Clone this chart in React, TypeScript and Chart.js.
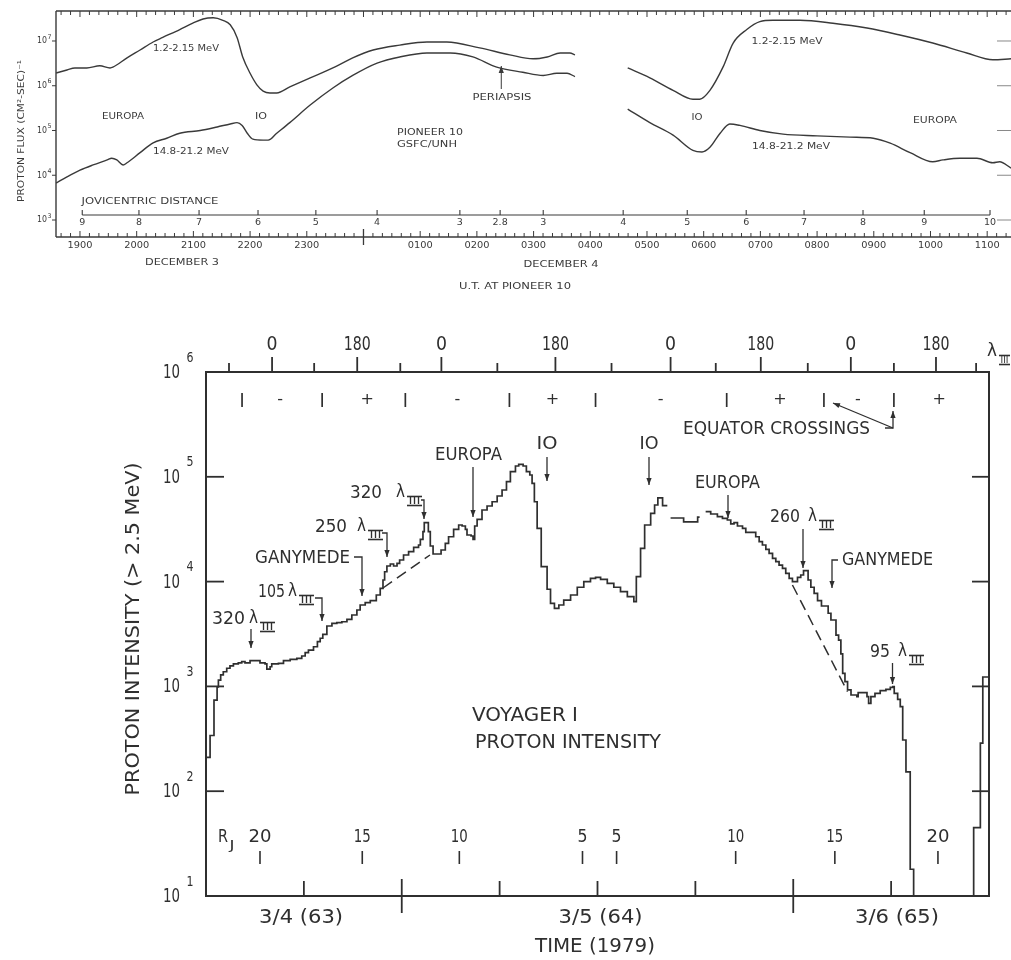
import React, { useEffect, useRef } from "react";
import { Chart, registerables } from "chart.js";

Chart.register(...registerables);

const INK = "#2f2f2f";
const INK_TOP = "#3a3a3a";
const SANS = '"DejaVu Sans", "Liberation Sans", sans-serif';

// ===== Upper panel: Pioneer 10 proton flux, hours after 00:00 UT 3 Dec =====
const p10HighHours = [18.58, 18.77, 18.91, 19.12, 19.35, 19.53, 19.58, 19.83, 20.06, 20.29, 20.46, 20.76, 20.99, 21.17, 21.35, 21.52, 21.65, 21.77, 21.87, 22.0, 22.12, 22.23, 22.35, 22.47, 22.7, 23.06, 23.46, 23.81, 24.17, 24.64, 25.12, 25.47, 26.05, 26.58, 26.99, 27.24, 27.47, 27.64, 27.73, 28.2, 28.66, 29.05, 29.46, 29.81, 29.93, 30.11, 30.34, 30.52, 30.76, 30.99, 31.22, 31.7, 32.28, 32.88, 33.46, 34.04, 34.64, 35.1, 35.42];
const p10HighFlux = [1.93e6, 2.25e6, 2.5e6, 2.5e6, 2.8e6, 2.5e6, 2.6e6, 4.2e6, 6.3e6, 9.5e6, 1.2e7, 1.8e7, 2.5e7, 3.1e7, 3.3e7, 2.9e7, 2.3e7, 1.2e7, 4.4e6, 1.9e6, 1.05e6, 7.6e5, 6.9e5, 6.9e5, 9.4e5, 1.5e6, 2.5e6, 4.2e6, 6.3e6, 8.1e6, 9.5e6, 9.5e6, 7e6, 4.9e6, 4e6, 4.4e6, 5.4e6, 5.4e6, 4.9e6, null, 2.5e6, 1.5e6, 7.9e5, 5e5, 5e5, 7.9e5, 2.6e6, 9e6, 1.8e7, 2.7e7, 2.9e7, 2.9e7, 2.5e7, 1.95e7, 1.36e7, 9e6, 5.4e6, 3.8e6, 4e6];
const p10LowHours = [18.58, 18.77, 19.0, 19.23, 19.48, 19.56, 19.65, 19.76, 19.83, 20.06, 20.29, 20.53, 20.76, 21.12, 21.42, 21.65, 21.77, 21.86, 21.95, 22.05, 22.23, 22.32, 22.47, 22.7, 23.06, 23.46, 23.81, 24.24, 24.64, 25.12, 25.53, 25.93, 26.35, 26.81, 27.17, 27.41, 27.59, 27.73, 28.2, 28.66, 29.05, 29.46, 29.81, 29.97, 30.11, 30.29, 30.46, 30.64, 30.99, 31.4, 32.0, 32.58, 32.99, 33.29, 33.64, 34.04, 34.22, 34.52, 34.82, 35.1, 35.22, 35.42];
const p10LowFlux = [6.7e3, 9.2e3, 1.3e4, 1.7e4, 2.2e4, 2.4e4, 2.2e4, 1.7e4, 1.9e4, 3.2e4, 5.3e4, 6.7e4, 8.7e4, 1.0e5, 1.2e5, 1.4e5, 1.5e5, 1.3e5, 8.7e4, 6.4e4, 6.1e4, 6.1e4, 8.7e4, 1.5e5, 3.7e5, 8.9e5, 1.7e6, 3.2e6, 4.4e6, 5.4e6, 5.4e6, 4.4e6, 2.6e6, 2.0e6, 1.7e6, 1.9e6, 1.9e6, 1.6e6, null, 3.0e5, 1.5e5, 7.9e4, 3.6e4, 3.3e4, 4.2e4, 8.7e4, 1.4e5, 1.3e5, 1.0e5, 8.3e4, 7.6e4, 7.1e4, 6.7e4, 5.2e4, 3.2e4, 2.0e4, 2.2e4, 2.4e4, 2.4e4, 1.9e4, 2.0e4, 1.45e4];
const p10HourTicks = [19, 20, 21, 22, 23, 25, 26, 27, 28, 29, 30, 31, 32, 33, 34, 35];
const p10HourLabels = ["1900", "2000", "2100", "2200", "2300", "0100", "0200", "0300", "0400", "0500", "0600", "0700", "0800", "0900", "1000", "1100"];
const p10DistHours = [19.04, 20.04, 21.1, 22.14, 23.16, 24.24, 25.7, 26.41, 27.17, 28.58, 29.71, 30.75, 31.77, 32.81, 33.89, 35.05];
const p10DistLabels = ["9", "8", "7", "6", "5", "4", "3", "2.8", "3", "4", "5", "6", "7", "8", "9", "10"];
const p10Decades = [1e3, 1e4, 1e5, 1e6, 1e7];
const p10DecadeExp = ["3", "4", "5", "6", "7"];
const p10PeriapsisHour = 26.43;

// ===== Lower panel: Voyager 1 proton intensity, hours after 00:00 4 March 1979 =====
const v1Hours = [12.06, 12.25, 12.49, 12.68, 12.76, 12.9, 13.06, 13.27, 13.47, 13.68, 13.98, 14.19, 14.39, 14.7, 15.31, 15.62, 15.73, 15.93, 16.03, 16.44, 16.75, 17.16, 17.57, 17.87, 18.08, 18.28, 18.59, 18.83, 19.0, 19.16, 19.41, 19.72, 20.02, 20.33, 20.64, 20.94, 21.25, 21.45, 21.76, 22.07, 22.44, 22.68, 22.85, 22.95, 23.09, 23.3, 23.5, 23.71, 23.87, 24.11, 24.42, 24.73, 25.03, 25.14, 25.3, 25.38, 25.63, 25.75, 25.92, 26.41, 26.67, 26.87, 27.18, 27.49, 27.7, 27.9, 28.0, 28.25, 28.37, 28.47, 28.62, 28.92, 29.23, 29.54, 29.85, 30.15, 30.42, 30.66, 30.97, 31.17, 31.44, 31.64, 31.85, 31.99, 32.13, 32.3, 32.55, 32.91, 33.12, 33.36, 33.63, 33.93, 34.35, 34.76, 35.16, 35.57, 35.88, 36.19, 36.6, 37.0, 37.41, 37.83, 38.23, 38.38, 38.64, 38.89, 39.26, 39.5, 39.7, 39.99, 40.28, 40.3, 40.48, 41.28, 42.14, 42.26, 42.3, 42.63, 42.94, 43.35, 43.66, 43.96, 44.17, 44.37, 44.58, 44.89, 45.09, 45.7, 45.91, 46.11, 46.32, 46.52, 46.73, 46.93, 47.13, 47.34, 47.54, 47.75, 47.95, 48.26, 48.46, 48.63, 48.91, 49.08, 49.28, 49.49, 49.73, 50.14, 50.31, 50.62, 50.78, 50.92, 51.03, 51.17, 51.33, 51.54, 51.9, 51.98, 52.52, 52.62, 52.76, 53.01, 53.33, 53.68, 53.95, 54.11, 54.19, 54.4, 54.56, 54.71, 54.91, 55.17, 55.38, 59.06, 59.47, 59.62, 59.94];
const v1Intensity = [210, 340, 740, 990, 1150, 1290, 1380, 1490, 1570, 1640, 1680, 1720, 1680, 1760, 1680, 1640, 1460, 1540, 1640, 1660, 1760, 1810, 1850, 1950, 2100, 2220, 2390, 2670, 2880, 3140, 3770, 4000, 4060, 4140, 4370, 4800, 5360, 5980, 6290, 6570, 7450, 8630, 10360, 12420, 14090, 14720, 14090, 14950, 16070, 17940, 19280, 21240, 22350, 25330, 29940, 36480, 29940, 21860, 18340, 20030, 23190, 26800, 31550, 34680, 33940, 31550, 27850, 27230, 25330, 33940, 39300, 48200, 52620, 57830, 65580, 74820, 89800, 111900, 126800, 131600, 126800, 111900, 104000, 86700, 57830, 32270, 13870, 8450, 6210, 5560, 5980, 6670, 7450, 8830, 9980, 10740, 10990, 10510, 9630, 8830, 8010, 7180, 6430, 11140, 20780, 34680, 44870, 53830, 62800, 53000, 53000, null, 40460, 37070, 41300, 41300, null, 46450, 44160, 41600, 40180, 38720, 35480, 36480, 33940, 32270, 29520, 26800, 24040, 22350, 20330, 18620, 16680, 15490, 14390, 13390, 12000, 10740, 9980, 10990, 11560, 12700, 10360, 8830, 7730, 6570, 5850, 4990, 4300, 3090, 2770, 2040, 1330, 1110, 925, 828, 798, 871, 798, 690, 798, 859, 910, 938, 980, 993, 859, 753, 640, 308, 153, 18, 1, 45, 288, 1230, 1230];
const v1DashEarlyHours = [22.85, 25.73];
const v1DashEarly = [8690, 17940];
const v1DashLateHours = [47.95, 51.33];
const v1DashLate = [9280, 890];
const v1Decades = [10, 100, 1e3, 1e4, 1e5, 1e6];
const lambdaMajorHours = [16.05, 21.27, 26.43, 33.42, 40.48, 46.01, 51.53, 56.75];
const lambdaMajorLabels = ["0", "180", "0", "180", "0", "180", "0", "180"];
const lambdaMinorHours = [13.41, 18.63, 23.91, 29.86, 36.86, 43.25, 48.89, 54.17, 59.21];
const equatorHours = [14.21, 19.12, 24.22, 30.6, 35.88, 43.92, 49.88, 54.17];
const hemiHours = [16.54, 21.88, 27.41, 33.24, 39.87, 47.18, 51.96, 56.94];
const hemiSigns = ["-", "+", "-", "+", "-", "+", "-", "+"];
const rjHours = [15.31, 21.58, 27.53, 35.08, 37.17, 44.47, 50.55, 56.87];
const rjLabels = ["20", "15", "10", "5", "5", "10", "15", "20"];
const sixHourTicks = [18, 30, 36, 42, 54];
const dayBoundaryHours = [24, 48];
const dayLabelHours = [17.83, 36.19, 54.36];
const dayLabels = ["3/4 (63)", "3/5 (64)", "3/6 (65)"];

// ---------- drawing helpers ----------
function seg(ctx: any, x1: number, y1: number, x2: number, y2: number) {
  ctx.beginPath();
  ctx.moveTo(x1, y1);
  ctx.lineTo(x2, y2);
  ctx.stroke();
}
function head(ctx: any, x: number, y: number, dx: number, dy: number, len = 7, half = 2.6) {
  const n = Math.hypot(dx, dy);
  const ux = dx / n, uy = dy / n;
  ctx.beginPath();
  ctx.moveTo(x, y);
  ctx.lineTo(x - ux * len - uy * half, y - uy * len + ux * half);
  ctx.lineTo(x - ux * len + uy * half, y - uy * len - ux * half);
  ctx.closePath();
  ctx.fill();
}
function arrow(ctx: any, pts: number[][]) {
  ctx.beginPath();
  ctx.moveTo(pts[0][0], pts[0][1]);
  for (let i = 1; i < pts.length; i++) ctx.lineTo(pts[i][0], pts[i][1]);
  ctx.stroke();
  const a = pts[pts.length - 2], b = pts[pts.length - 1];
  head(ctx, b[0], b[1], b[0] - a[0], b[1] - a[1]);
}
function label(ctx: any, s: string, cx: number, cy: number, size: number, w?: number, rot = 0, family = SANS) {
  ctx.save();
  ctx.font = `${size}px ${family}`;
  ctx.textAlign = "center";
  ctx.textBaseline = "middle";
  const m = ctx.measureText(s).width;
  ctx.translate(cx, cy);
  if (rot) ctx.rotate(rot);
  if (w) ctx.scale(w / m, 1);
  ctx.fillText(s, 0, 0);
  ctx.restore();
}
function roman3(ctx: any, left: number, right: number, cy: number) {
  label(ctx, "III", (left + right) / 2, cy, 10, right - left - 3);
  ctx.save();
  ctx.lineWidth = 1.6;
  seg(ctx, left, cy - 4.5, right, cy - 4.5);
  seg(ctx, left, cy + 4.5, right, cy + 4.5);
  ctx.restore();
}
function lamLabel(ctx: any, num: string, numL: number, numR: number, lamL: number, cy: number) {
  label(ctx, num, (numL + numR) / 2, cy, 18, numR - numL);
  label(ctx, "λ", lamL + 4.5, cy, 17, 9);
  roman3(ctx, lamL + 11, lamL + 26, cy + 8);
}

// ---------- plugins ----------
const topDecor = {
  id: "topDecor",
  afterDraw(chart: any) {
    const { ctx, chartArea: a } = chart;
    const x = chart.scales.x, y = chart.scales.y;
    ctx.save();
    ctx.strokeStyle = INK_TOP;
    ctx.fillStyle = INK_TOP;
    ctx.lineWidth = 1.4;
    seg(ctx, a.left, a.top, a.left, a.bottom);
    seg(ctx, a.left, a.top, a.right, a.top);
    seg(ctx, a.left, a.bottom, a.right, a.bottom);
    ctx.lineWidth = 1;
    const m0 = Math.ceil(x.min * 6), m1 = Math.floor(x.max * 6);
    for (let m = m0; m <= m1; m++) {
      const px = x.getPixelForValue(m / 6);
      const len = m % 6 === 0 ? 6 : 4;
      seg(ctx, px, a.bottom, px, a.bottom - len);
      seg(ctx, px, a.top, px, a.top + len);
    }
    const mid = x.getPixelForValue(24);
    ctx.lineWidth = 1.3;
    seg(ctx, mid, a.bottom - 8, mid, a.bottom + 8);
    p10HourTicks.forEach((h, i) => label(ctx, p10HourLabels[i], x.getPixelForValue(h), 246, 9.5, 25));
    label(ctx, "DECEMBER 3", 182, 263, 9.5, 74);
    label(ctx, "DECEMBER 4", 561, 265, 9.5, 75);
    label(ctx, "U.T. AT PIONEER 10", 515, 287, 9.5, 112);
    // y axis
    p10Decades.forEach((v, i) => {
      const py = y.getPixelForValue(v);
      ctx.lineWidth = 1;
      seg(ctx, a.left - 4, py, a.left, py);
      ctx.save();
      ctx.strokeStyle = "#888";
      seg(ctx, 997, py, 1011, py);
      ctx.restore();
      label(ctx, "10", 42, py, 9, 10);
      label(ctx, p10DecadeExp[i], 49.5, py - 4, 6.5, 4);
    });
    label(ctx, "PROTON FLUX (CM²-SEC)⁻¹", 22, 131, 9.5, 142, -Math.PI / 2);
    // jovicentric distance scale
    ctx.lineWidth = 1.1;
    const dx0 = x.getPixelForValue(p10DistHours[0]);
    const dx1 = x.getPixelForValue(p10DistHours[p10DistHours.length - 1]);
    seg(ctx, dx0, 215, dx1, 215);
    p10DistHours.forEach((h, i) => {
      const px = x.getPixelForValue(h);
      seg(ctx, px, 215, px, 210);
      label(ctx, p10DistLabels[i], px, 223, 9.5);
    });
    label(ctx, "JOVICENTRIC DISTANCE", 150, 202, 9.5, 137);
    // curve annotations
    label(ctx, "1.2-2.15 MeV", 186, 49, 9.5, 66);
    label(ctx, "EUROPA", 123, 117, 9.5, 42);
    label(ctx, "IO", 261, 117, 9.5, 12);
    label(ctx, "14.8-21.2 MeV", 191, 152, 9.5, 76);
    label(ctx, "PIONEER 10", 430, 133, 9.5, 66);
    label(ctx, "GSFC/UNH", 427, 145, 9.5, 60);
    label(ctx, "PERIAPSIS", 502, 98, 9.5, 59);
    const pp = x.getPixelForValue(p10PeriapsisHour);
    ctx.lineWidth = 1;
    arrow(ctx, [[pp, 89], [pp, 66]]);
    label(ctx, "1.2-2.15 MeV", 787, 42, 9.5, 71);
    label(ctx, "IO", 697, 118, 9.5, 11);
    label(ctx, "EUROPA", 935, 121, 9.5, 44);
    label(ctx, "14.8-21.2 MeV", 791, 147, 9.5, 78);
    ctx.restore();
  },
};

const bottomDecor = {
  id: "bottomDecor",
  afterDraw(chart: any) {
    const { ctx, chartArea: a } = chart;
    const x = chart.scales.x, y = chart.scales.y;
    ctx.save();
    ctx.strokeStyle = INK;
    ctx.fillStyle = INK;
    ctx.lineWidth = 2;
    ctx.strokeRect(a.left, a.top, a.right - a.left, a.bottom - a.top);
    ctx.lineWidth = 1.8;
    v1Decades.forEach((v) => {
      const py = y.getPixelForValue(v);
      if (v > 10 && v < 1e6) {
        seg(ctx, a.left, py, a.left + 18, py);
        seg(ctx, a.right - 17, py, a.right, py);
      }
      label(ctx, "10", 171.5, py + 1, 19, 17);
      label(ctx, String(Math.round(Math.log10(v))), 190, py - 14, 14, 7);
    });
    // time axis
    sixHourTicks.forEach((h) => {
      const px = x.getPixelForValue(h);
      seg(ctx, px, a.bottom, px, a.bottom - 15);
    });
    dayBoundaryHours.forEach((h) => {
      const px = x.getPixelForValue(h);
      seg(ctx, px, a.bottom - 17, px, a.bottom + 17);
    });
    dayLabels.forEach((s, i) => label(ctx, s, x.getPixelForValue(dayLabelHours[i]), 918, 19, 84));
    label(ctx, "TIME (1979)", 595, 947, 19, 120);
    // lambda III axis on top
    lambdaMajorHours.forEach((h, i) => {
      const px = x.getPixelForValue(h);
      seg(ctx, px, a.top, px, a.top - 15);
      const s = lambdaMajorLabels[i];
      label(ctx, s, px, 345, 19, s === "0" ? 11 : 27);
    });
    lambdaMinorHours.forEach((h) => {
      const px = x.getPixelForValue(h);
      seg(ctx, px, a.top, px, a.top - 9);
    });
    label(ctx, "λ", 992, 351, 18, 10);
    roman3(ctx, 999, 1010, 360);
    // equator crossings
    ctx.lineWidth = 1.7;
    equatorHours.forEach((h) => {
      const px = x.getPixelForValue(h);
      seg(ctx, px, 393, px, 407);
    });
    hemiHours.forEach((h, i) => label(ctx, hemiSigns[i], x.getPixelForValue(h), 400, 16));
    label(ctx, "EQUATOR CROSSINGS", 776.5, 429, 18, 187);
    ctx.lineWidth = 1.3;
    arrow(ctx, [[893, 428], [833, 403]]);
    arrow(ctx, [[885, 428], [893, 428], [893, 411]]);
    // annotations
    label(ctx, "EUROPA", 468.5, 455, 18, 67);
    arrow(ctx, [[473, 467], [473, 517]]);
    label(ctx, "IO", 547, 444, 18, 21);
    arrow(ctx, [[547, 457], [547, 481]]);
    label(ctx, "IO", 649, 444, 18, 19);
    arrow(ctx, [[649, 457], [649, 485]]);
    label(ctx, "EUROPA", 727.5, 483, 18, 65);
    arrow(ctx, [[728, 495], [728, 518]]);
    lamLabel(ctx, "320", 212, 245, 249, 619);
    arrow(ctx, [[251, 629], [251, 648]]);
    lamLabel(ctx, "105", 258, 285, 288, 592);
    arrow(ctx, [[315, 598], [322, 598], [322, 621]]);
    label(ctx, "GANYMEDE", 302.5, 558, 18, 95);
    arrow(ctx, [[354, 557], [362, 557], [362, 596]]);
    lamLabel(ctx, "250", 315, 347, 357, 527);
    arrow(ctx, [[382, 533], [387, 533], [387, 557]]);
    lamLabel(ctx, "320", 350, 382, 396, 493);
    arrow(ctx, [[421, 500], [424, 500], [424, 519]]);
    lamLabel(ctx, "260", 770, 800, 808, 517);
    arrow(ctx, [[803, 529], [803, 568]]);
    label(ctx, "GANYMEDE", 887.5, 560, 18, 91);
    arrow(ctx, [[838, 560], [832, 560], [832, 588]]);
    lamLabel(ctx, "95", 870, 890, 898, 652);
    arrow(ctx, [[892.5, 663], [892.5, 684]]);
    label(ctx, "VOYAGER I", 525, 716, 19, 106);
    label(ctx, "PROTON INTENSITY", 568, 743, 19, 186);
    // jovicentric distance row
    label(ctx, "R", 223, 837, 18, 10);
    label(ctx, "J", 232, 846, 12, 5);
    ctx.lineWidth = 1.6;
    rjHours.forEach((h, i) => {
      const px = x.getPixelForValue(h);
      const s = rjLabels[i];
      label(ctx, s, px, 837, 18, s === "5" ? 10 : s === "20" ? 23 : 17);
      seg(ctx, px, 851, px, 864);
    });
    label(ctx, "PROTON INTENSITY (> 2.5 MeV)", 134, 629, 19, 333, -Math.PI / 2);
    ctx.restore();
  },
};

function pts(xs: number[], ys: (number | null)[]) {
  return xs.map((h, i) => ({ x: h, y: ys[i] }));
}

export default function App() {
  const topRef = useRef<HTMLCanvasElement>(null);
  const botRef = useRef<HTMLCanvasElement>(null);

  useEffect(() => {
    const top = new Chart(topRef.current as HTMLCanvasElement, {
      type: "line",
      data: {
        datasets: [
          { data: pts(p10HighHours, p10HighFlux), borderColor: INK_TOP, borderWidth: 1.4, pointRadius: 0, cubicInterpolationMode: "monotone", spanGaps: false },
          { data: pts(p10LowHours, p10LowFlux), borderColor: INK_TOP, borderWidth: 1.4, pointRadius: 0, cubicInterpolationMode: "monotone", spanGaps: false },
        ],
      } as any,
      options: {
        animation: false,
        responsive: false,
        maintainAspectRatio: false,
        events: [],
        layout: { padding: { left: 56, top: 11, right: 0, bottom: 960 - 237 } },
        plugins: { legend: { display: false }, tooltip: { enabled: false } },
        scales: {
          x: { type: "linear", min: 18.577, max: 35.42, display: false },
          y: { type: "logarithmic", min: 417, max: 4.68e7, display: false },
        },
      } as any,
      plugins: [topDecor],
    });

    const bottom = new Chart(botRef.current as HTMLCanvasElement, {
      type: "line",
      data: {
        datasets: [
          { data: pts(v1Hours, v1Intensity), borderColor: INK, borderWidth: 1.7, pointRadius: 0, stepped: true, spanGaps: false },
          { data: pts(v1DashEarlyHours, v1DashEarly), borderColor: INK, borderWidth: 1.5, pointRadius: 0, borderDash: [11, 6] },
          { data: pts(v1DashLateHours, v1DashLate), borderColor: INK, borderWidth: 1.5, pointRadius: 0, borderDash: [11, 6] },
        ],
      } as any,
      options: {
        animation: false,
        responsive: false,
        maintainAspectRatio: false,
        events: [],
        layout: { padding: { left: 206, top: 372, right: 22, bottom: 960 - 896 } },
        plugins: { legend: { display: false }, tooltip: { enabled: false } },
        scales: {
          x: { type: "linear", min: 12, max: 60, display: false },
          y: { type: "logarithmic", min: 10, max: 1e6, display: false },
        },
      } as any,
      plugins: [bottomDecor],
    });

    return () => {
      top.destroy();
      bottom.destroy();
    };
  }, []);

  return (
    <div style={{ position: "absolute", left: 0, top: 0, width: 1011, height: 960, background: "#fff", overflow: "hidden" }}>
      <canvas ref={topRef} width={1011} height={960} style={{ position: "absolute", left: 0, top: 0 }} />
      <canvas ref={botRef} width={1011} height={960} style={{ position: "absolute", left: 0, top: 0 }} />
    </div>
  );
}
